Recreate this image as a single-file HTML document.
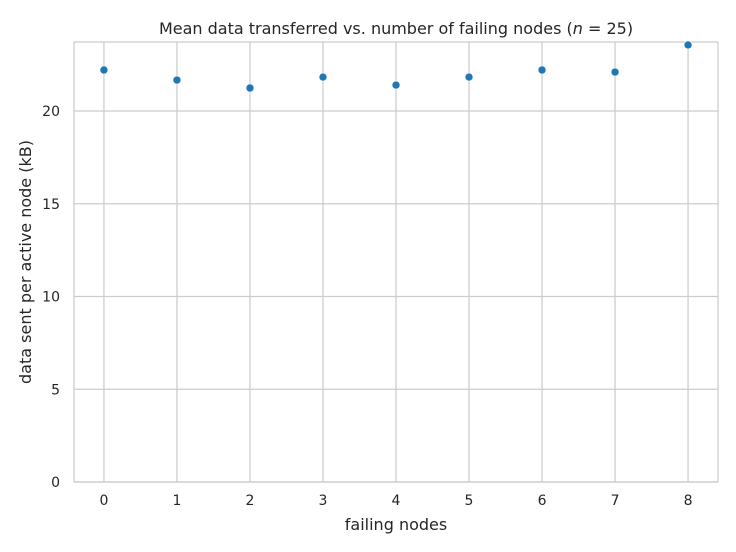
<!DOCTYPE html>
<html><head><meta charset="utf-8"><style>
html,body{margin:0;padding:0;background:#fff;}
svg{display:block;font-family:"DejaVu Sans","Liberation Sans",sans-serif;}
</style></head><body>
<svg id="chart" width="736" height="552">
<rect x="0" y="0" width="736" height="552" fill="#fff"/>
<g id="grid"></g>
<rect x="74" y="42" width="644" height="440" fill="none" stroke="#cccccc" stroke-width="1.25"/>
<g id="ticks"></g>
<g id="points"></g>
<text x="396" y="34" text-anchor="middle" font-size="16" fill="#262626">Mean data transferred vs. number of failing nodes (<tspan font-style="italic">n</tspan> = 25)</text>
<text x="396" y="530" text-anchor="middle" font-size="16" fill="#262626">failing nodes</text>
<text transform="translate(31,262) rotate(-90)" text-anchor="middle" font-size="16" fill="#262626">data sent per active node (kB)</text>
</svg>
<script>
const categories=[0,1,2,3,4,5,6,7,8];
const values=[22.21,21.67,21.24,21.83,21.40,21.83,22.21,22.10,23.56];
const yTicks=[0,5,10,15,20];
const xTicks=[0,1,2,3,4,5,6,7,8];
const L=74,R=718,T=42,B=482;
const xMin=-0.41,xMax=8.41,yMin=0,yMax=23.72;
const xs=v=>L+(v-xMin)/(xMax-xMin)*(R-L);
const ys=v=>B-(v-yMin)/(yMax-yMin)*(B-T);
const NS="http://www.w3.org/2000/svg";
const grid=document.getElementById('grid'),ticks=document.getElementById('ticks'),pts=document.getElementById('points');
function mk(tag,attrs,parent){const e=document.createElementNS(NS,tag);for(const k in attrs)e.setAttribute(k,attrs[k]);parent.appendChild(e);return e;}
xTicks.forEach(t=>{
 const l=mk('line',{x1:xs(t),x2:xs(t),y1:T,y2:B,stroke:'#cccccc','stroke-width':1.25},grid);
 
 
 const tx=mk('text',{x:xs(t),y:B+23,'text-anchor':'middle','font-size':14,fill:'#262626'},ticks);
 tx.textContent=t;
 
 
});
yTicks.forEach(t=>{
 const l=mk('line',{x1:L,x2:R,y1:ys(t),y2:ys(t),stroke:'#cccccc','stroke-width':1.25},grid);
 
 
 const tx=mk('text',{x:L-14,y:ys(t)+5,'text-anchor':'end','font-size':14,fill:'#262626'},ticks);
 tx.textContent=t;
 
 
});
categories.forEach((c,i)=>{
 const p=mk('circle',{cx:xs(c),cy:ys(values[i]),r:4,fill:'#1f77b4',stroke:'#fff','stroke-width':0.6},pts);
 
 
});
</script>
</body></html>
